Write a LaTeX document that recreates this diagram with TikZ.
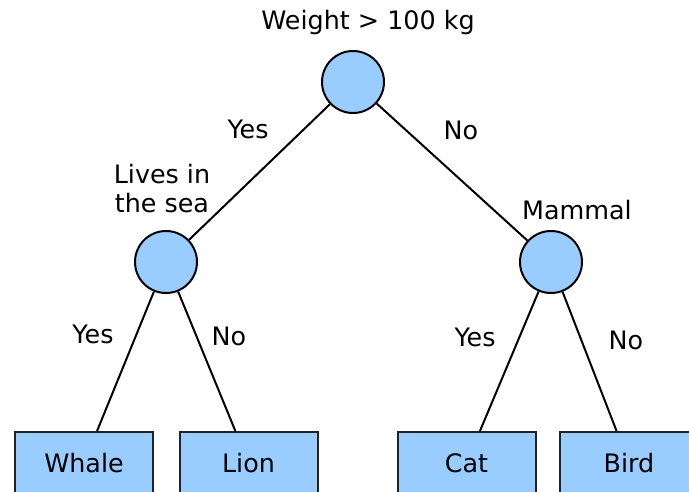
\documentclass[tikz,border=0pt]{standalone}
\usepackage{fontspec}
\setmainfont{DejaVu Sans}
\definecolor{nodeblue}{HTML}{99CCFF}
\definecolor{leafedge}{HTML}{222222}
\begin{document}
\begin{tikzpicture}[x=1pt,y=-1pt,
  every node/.style={font=\fontsize{25.4}{29}\selectfont},
  test/.style={circle, draw=black, line width=2pt, fill=nodeblue,
    minimum size=62pt, inner sep=0pt},
  leaf/.style={rectangle, draw=leafedge, line width=2pt, fill=nodeblue,
    minimum width=138pt, minimum height=62pt, inner sep=0pt},
  branch/.style={draw=black, line width=2pt},
  lbl/.style={inner sep=0pt, anchor=base}]
  \useasboundingbox (0,0) rectangle (689,492);
  \clip (0,0) rectangle (689,492);

  % decision nodes
  \node[test] (root) at (353,82) {};
  \node[test] (sea) at (166,262) {};
  \node[test] (mam) at (551,262) {};

  % leaves
  \node[leaf] (whale) at (84,463) {Whale};
  \node[leaf] (lion) at (248.5,463) {Lion};
  \node[leaf] (cat) at (466.5,463) {Cat};
  \node[leaf] (bird) at (629,463) {Bird};

  % branches
  \path[branch] (root) -- (sea);
  \path[branch] (root) -- (mam);
  \path[branch] (sea) -- (whale);
  \path[branch] (sea) -- (lion);
  \path[branch] (mam) -- (cat);
  \path[branch] (mam) -- (bird);

  % questions
  \node[lbl] (q1) at (368,30) {Weight > 100 kg};
  \node[lbl, align=center] (q2) at (162,213) {Lives in\\the sea};
  \node[lbl] (q3) at (577,220) {Mammal};

  % answers
  \node[lbl] (a1) at (248,139) {Yes};
  \node[lbl] (a2) at (461,140) {No};
  \node[lbl] (a3) at (93,343) {Yes};
  \node[lbl] (a4) at (229,345) {No};
  \node[lbl] (a5) at (475,346) {Yes};
  \node[lbl] (a6) at (626,349) {No};
\end{tikzpicture}
\end{document}
